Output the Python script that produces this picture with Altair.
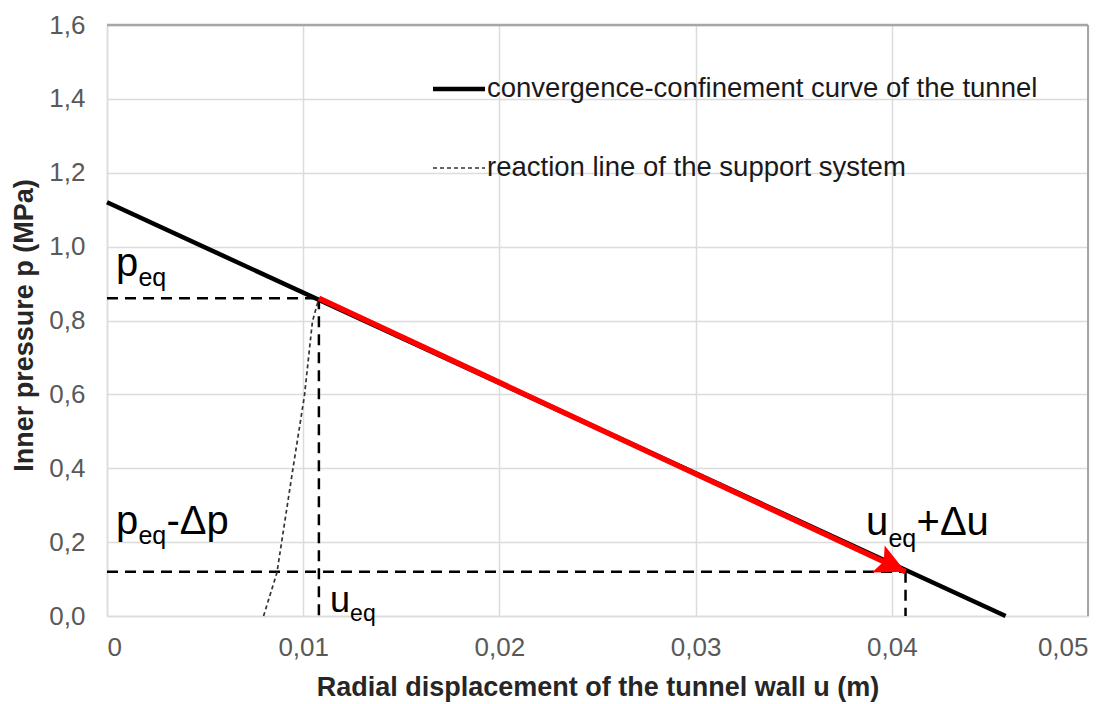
import math
import altair as alt
import pandas as pd

# ---------------- data ----------------
# convergence-confinement curve of the tunnel
cc_u = [0.0, 0.0458]          # radial displacement u (m)
cc_p = [1.12, 0.0]            # inner pressure p (MPa)

# reaction line of the support system
rl_u = [0.00798, 0.00866, 0.00948, 0.01006, 0.01047, 0.01072, 0.0108]
rl_p = [0.0, 0.117, 0.40, 0.595, 0.797, 0.845, 0.86]

# equilibrium point and shifted point (u_eq, p_eq) -> (u_eq+du, p_eq-dp)
eq_u = [0.0108, 0.0407]
eq_p = [0.86, 0.12]

legend_labels = ["convergence-confinement curve of the tunnel",
                 "reaction line of the support system"]

x_ticks = [0, 0.01, 0.02, 0.03, 0.04, 0.05]
y_ticks = [0, 0.2, 0.4, 0.6, 0.8, 1.0, 1.2, 1.4, 1.6]

# annotation labels (anchor = left end of baseline, in data units)
ann_text = ["p", "p", "-\u0394p", "u", "+\u0394u"]
ann_u = [0.00046, 0.00046, 0.00303, 0.03868, 0.04126]
ann_p = [0.9205, 0.222, 0.222, 0.2193, 0.2193]
sub_text = ["eq", "eq", "eq"]
sub_u = [0.0016, 0.0016, 0.03983]
sub_p = [0.8934, 0.195, 0.1868]
# "u_eq" label near the u axis
ueq_text = ["u", "eq"]
ueq_u = [0.01137, 0.01239]
ueq_p = [0.0108, -0.0135]

# ---------------- chart ----------------
W, H = 981, 591
FONT = "Liberation Sans"
xdom, ydom = [0, 0.05], [0, 1.6]

xs = alt.Scale(domain=xdom, nice=False, zero=False)
ys = alt.Scale(domain=ydom, nice=False, zero=False)

x_axis = alt.Axis(values=x_ticks, title="Radial displacement of the tunnel wall u (m)",
                  labelExpr="datum.value == 0 ? '0' : replace(format(datum.value, '.2f'), '.', ',')",
                  labelFontSize=26, labelColor="#595959", labelPadding=18, labelFont=FONT,
                  titleFontSize=27, titleFontWeight="bold", titleColor="#262626", titleFont=FONT,
                  titleX=W / 2, titleY=79, titleBaseline="alphabetic",
                  ticks=False, grid=True, gridColor="#dcdcdc", gridWidth=1.5,
                  domainColor="#dcdcdc", domainWidth=1.5)
y_axis = alt.Axis(values=y_ticks, title="Inner pressure p (MPa)",
                  labelExpr="replace(format(datum.value, '.1f'), '.', ',')",
                  labelFontSize=26, labelColor="#595959", labelPadding=22, labelFont=FONT,
                  titleFontSize=27, titleFontWeight="bold", titleColor="#262626", titleFont=FONT,
                  titleX=-83, titleY=300, titleAngle=-90, titleBaseline="middle", titleAlign="center",
                  ticks=False, grid=True, gridColor="#dcdcdc", gridWidth=1.5,
                  domainColor="#dcdcdc", domainWidth=1.5)


def X(field):
    return alt.X(field, type="quantitative", scale=xs, axis=x_axis)


def Y(field):
    return alt.Y(field, type="quantitative", scale=ys, axis=y_axis)


# dashed guide lines
guides = pd.DataFrame({
    "x0": [0, eq_u[0], 0, eq_u[1]],
    "x1": [eq_u[0], eq_u[0], eq_u[1], eq_u[1]],
    "y0": [eq_p[0], eq_p[0], eq_p[1], eq_p[1]],
    "y1": [eq_p[0], 0, eq_p[1], 0],
})
guide_layer = alt.Chart(guides).mark_rule(color="black", strokeWidth=2.5, strokeDash=[11, 7]).encode(
    x=X("x0"), x2="x1:Q", y=Y("y0"), y2="y1:Q")

rl_df = pd.DataFrame({"u": rl_u, "p": rl_p})
rl_layer = alt.Chart(rl_df).mark_line(color="#333333", strokeWidth=1.7, strokeDash=[4, 3]).encode(
    x=X("u"), y=Y("p"), order="p:Q")

cc_df = pd.DataFrame({"u": cc_u, "p": cc_p})
cc_layer = alt.Chart(cc_df).mark_line(color="black", strokeWidth=4.5).encode(x=X("u"), y=Y("p"))

arr_df = pd.DataFrame({"u": eq_u, "p": eq_p})
arr_layer = alt.Chart(arr_df).mark_line(color="#ff0000", strokeWidth=5.5).encode(x=X("u"), y=Y("p"))

dx = (eq_u[1] - eq_u[0]) / (xdom[1] - xdom[0]) * W
dy = (eq_p[0] - eq_p[1]) / (ydom[1] - ydom[0]) * H
ang = math.degrees(math.atan2(dy, dx))
head_df = pd.DataFrame({"u": [eq_u[1]], "p": [eq_p[1]]})
head_layer = alt.Chart(head_df).mark_point(
    shape="M0,0 L-1,-0.5 L-0.8,0 L-1,0.5 Z", filled=True, color="#ff0000", opacity=1,
    size=3600, angle=ang).encode(x=X("u"), y=Y("p"))


def text_layer(t, u, p, size):
    df = pd.DataFrame({"u": u, "p": p, "t": t})
    return alt.Chart(df).mark_text(align="left", baseline="alphabetic", fontSize=size,
                                   font=FONT, color="black").encode(
        x=X("u"), y=Y("p"), text="t:N")


ann_layer = text_layer(ann_text, ann_u, ann_p, 40)
sub_layer = text_layer(sub_text, sub_u, sub_p, 25)
ueq_main = text_layer(ueq_text[:1], ueq_u[:1], ueq_p[:1], 36)
ueq_sub = text_layer(ueq_text[1:], ueq_u[1:], ueq_p[1:], 23)

# frame (top and right edges of the plot area)
frame_top = alt.Chart().mark_rule(color="#a6a6a6", strokeWidth=2.5).encode(
    x=alt.value(0), x2=alt.value(W), y=alt.value(0))
frame_right = alt.Chart().mark_rule(color="#a6a6a6", strokeWidth=2).encode(
    x=alt.value(W), y=alt.value(0), y2=alt.value(H))

# legend (inside plot, top right)
leg1_line = alt.Chart().mark_rule(color="black", strokeWidth=4.5).encode(
    x=alt.value(326), x2=alt.value(378), y=alt.value(64))
leg2_line = alt.Chart().mark_rule(color="#333333", strokeWidth=1.7, strokeDash=[4, 3]).encode(
    x=alt.value(326), x2=alt.value(378), y=alt.value(143))
leg1_text = alt.Chart().mark_text(align="left", baseline="middle", fontSize=27.5, font=FONT,
                                  color="#1a1a1a", text=legend_labels[0]).encode(
    x=alt.value(380), y=alt.value(64))
leg2_text = alt.Chart().mark_text(align="left", baseline="middle", fontSize=27.5, font=FONT,
                                  color="#1a1a1a", text=legend_labels[1]).encode(
    x=alt.value(380), y=alt.value(143))

chart = alt.layer(
    guide_layer, rl_layer, cc_layer, arr_layer, head_layer, ann_layer, sub_layer, ueq_main, ueq_sub,
    frame_top, frame_right, leg1_line, leg2_line, leg1_text, leg2_text
).properties(
    width=W, height=H,
    autosize=alt.AutoSizeParams(type="none"),
    padding={"left": 99, "top": 17, "right": 24, "bottom": 88},
).configure_view(stroke=None).configure(background="white")

chart.save("out.html", embed_options={"renderer": "svg", "actions": False})
